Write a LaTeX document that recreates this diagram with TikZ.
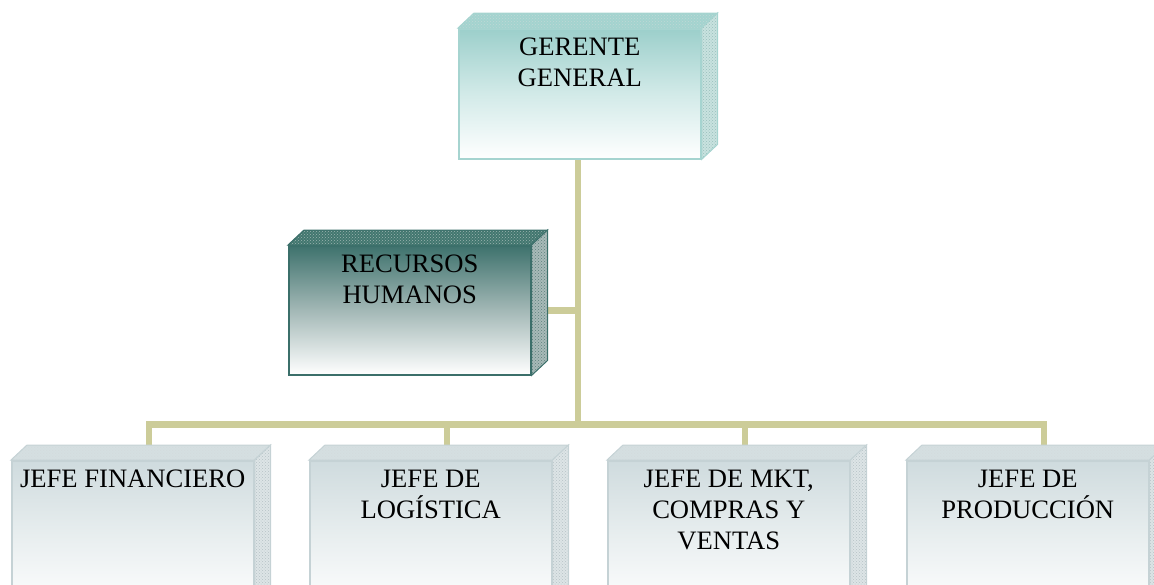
\documentclass[tikz,border=0pt]{standalone}
\usepackage{fontspec}
\setmainfont{Liberation Serif}
\usetikzlibrary{calc,patterns}
\pgfdeclarelayer{background}
\pgfsetlayers{background,main}
\definecolor{ggf}{HTML}{9CCFCB}\definecolor{ggm}{HTML}{D2EAE8}\definecolor{ggb}{HTML}{A6D4D0}
\definecolor{ggt}{HTML}{A3D3CF}\definecolor{ggs}{HTML}{C8E2DF}\definecolor{ggp}{HTML}{98BFBB}
\definecolor{rhf}{HTML}{3E726D}\definecolor{rhm}{HTML}{A3B8B6}\definecolor{rhb}{HTML}{3B6F6A}
\definecolor{rht}{HTML}{42776F}\definecolor{rhs}{HTML}{A8BAB8}\definecolor{rhp}{HTML}{5A807C}
\definecolor{jbf}{HTML}{CFDBDE}\definecolor{jbm}{HTML}{E8EEEF}\definecolor{jbb}{HTML}{C5D2D5}
\definecolor{jbt}{HTML}{D5DFE1}\definecolor{jbs}{HTML}{DDE4E6}\definecolor{jbp}{HTML}{B5C3C6}
\definecolor{khaki}{HTML}{CCCC99}
\tikzset{
  face/.style={anchor=north west, inner sep=0pt, minimum width=242pt, line width=1.5pt},
  txt/.style={font=\fontsize{26.6}{31}\selectfont, align=center, inner sep=0pt, anchor=north},
  conn/.style={draw=khaki, line width=6.5pt},
}
% #1 name, #2 x, #3 y, #4 kind, #5 height, #6 text
\newcommand\orgbox[6]{%
  \node[face, draw=#4b, top color=#4f, bottom color=white, middle color=#4m, minimum height=#5pt] (#1) at (#2,#3) {};
  \path[draw=#4b, line width=1pt, preaction={fill=#4t}, pattern=crosshatch dots, pattern color=#4p!60]
    (#1.north west) -- ++(16,-15) -- ($(#1.north east)+(16,-15)$) -- (#1.north east) -- cycle;
  \path[draw=#4b, line width=1pt, preaction={fill=#4s}, pattern=crosshatch dots, pattern color=#4p]
    (#1.north east) -- ++(16,-15) -- ($(#1.south east)+(16,-15)$) -- (#1.south east) -- cycle;
  \node[txt] (#1-t) at ($(#1.north)+(0,10)$) {#6};
}
\begin{document}
\begin{tikzpicture}[x=1pt,y=-1pt]
\clip (0,0) rectangle (1154,584);
\orgbox{gg}{458}{28}{gg}{130}{GERENTE\\GENERAL}
\orgbox{rh}{288}{245}{rh}{129}{RECURSOS\\HUMANOS}
\orgbox{b1}{11}{460}{jb}{150}{JEFE FINANCIERO}
\orgbox{b2}{309}{460}{jb}{150}{JEFE DE\\LOGÍSTICA}
\orgbox{b3}{607}{460}{jb}{150}{JEFE DE MKT,\\COMPRAS Y\\VENTAS}
\orgbox{b4}{906}{460}{jb}{150}{JEFE DE\\PRODUCCIÓN}
\coordinate (j) at ($(gg.south)+(-2,265)$);
\coordinate (t1) at ($(b1.north)+(16,-15)$);
\coordinate (t2) at ($(b2.north)+(16,-15)$);
\coordinate (t3) at ($(b3.north)+(16,-15)$);
\coordinate (t4) at ($(b4.north)+(16,-15)$);
\begin{pgfonlayer}{background}
\draw[conn] ($(gg.south)+(-2,0)$) -- (j);
\draw[conn] (rh.east) -- (rh.east -| j);
\draw[conn] (t1) |- (j);
\draw[conn] (t2) |- (j);
\draw[conn] (t3) |- (j);
\draw[conn] (t4) |- (j);
\end{pgfonlayer}
\end{tikzpicture}
\end{document}
